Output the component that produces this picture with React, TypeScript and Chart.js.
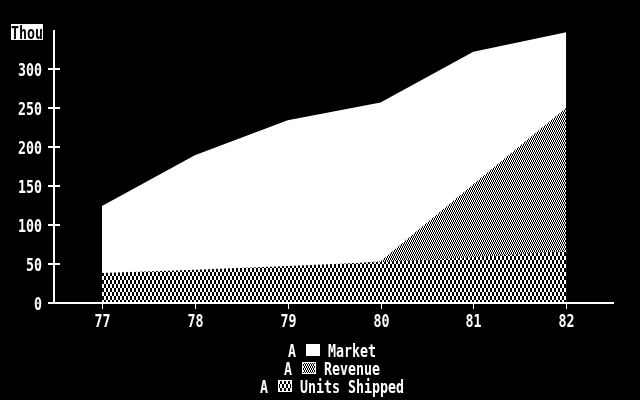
import React, { useEffect, useRef } from 'react';
import { Chart, registerables } from 'chart.js';

Chart.register(...registerables);

// ---- data ----
const years = [77, 78, 79, 80, 81, 82];
const marketValues = [124, 189, 234, 257, 322, 347];
const revenueValues = [34, 39, 44, 53, 152, 250];
const unitsValues = [38, 42, 47, 52, 58, 66];
const yTickValues = [0, 50, 100, 150, 200, 250, 300];
const xTickValues = [77, 78, 79, 80, 81, 82];
const yAxisUnit = 'Thou';
const legendLabels = ['Market', 'Revenue', 'Units Shipped'];

const FONT = 'bold 13.3px "DejaVu Sans Mono"';
const YSCALE = 1.35;

function makeChecker(cellW: number, cellH: number): CanvasPattern | string {
  const c = document.createElement('canvas');
  c.width = cellW * 2;
  c.height = cellH * 2;
  const g = c.getContext('2d');
  if (!g) return '#888';
  g.fillStyle = '#000';
  g.fillRect(0, 0, c.width, c.height);
  g.fillStyle = '#fff';
  g.fillRect(0, 0, cellW, cellH);
  g.fillRect(cellW, cellH, cellW, cellH);
  return g.createPattern(c, 'repeat') || '#888';
}

function drawText(
  ctx: CanvasRenderingContext2D,
  text: string,
  x: number,
  yCenter: number,
  align: CanvasTextAlign,
  color: string
) {
  ctx.save();
  ctx.font = FONT;
  ctx.fillStyle = color;
  ctx.textAlign = align;
  ctx.textBaseline = 'alphabetic';
  const cap = 0.729 * 13.3 * YSCALE;
  ctx.translate(x, yCenter + cap / 2);
  ctx.scale(1, YSCALE);
  ctx.fillText(text, 0, 0);
  ctx.restore();
}

export default function App() {
  const ref = useRef<HTMLCanvasElement | null>(null);

  useEffect(() => {
    const canvas = ref.current;
    if (!canvas) return;
    const unitsPattern = makeChecker(2, 4);
    const revenuePattern = makeChecker(1, 2);
    const legendFills = ['#fff', revenuePattern, unitsPattern];

    const decor = {
      id: 'decor',
      beforeDraw(chart: any) {
        const ctx = chart.ctx as CanvasRenderingContext2D;
        ctx.save();
        ctx.fillStyle = '#000';
        ctx.fillRect(0, 0, chart.width, chart.height);
        ctx.restore();
      },
      afterDraw(chart: any) {
        const ctx = chart.ctx as CanvasRenderingContext2D;
        const xs = chart.scales.x;
        const ys = chart.scales.y;
        const area = chart.chartArea;
        const y0 = Math.round(ys.getPixelForValue(0));
        ctx.save();
        ctx.fillStyle = '#fff';
        // axes
        ctx.fillRect(Math.round(area.left) - 1, Math.round(area.top), 2, y0 - Math.round(area.top) + 1);
        ctx.fillRect(Math.round(area.left) - 6, y0 - 1, Math.round(area.right) - Math.round(area.left) + 6, 2);
        // y ticks
        yTickValues.forEach((v) => {
          const py = Math.round(ys.getPixelForValue(v));
          ctx.fillRect(Math.round(area.left) - 6, py - 1, 12, 2);
          drawText(ctx, String(v), 42, py, 'right', '#fff');
        });
        // x ticks
        xTickValues.forEach((v) => {
          const px = Math.round(xs.getPixelForValue(v));
          ctx.fillRect(px, y0 + 1, 1, 5);
          drawText(ctx, String(v), px + 0.5, y0 + 17, 'center', '#fff');
        });
        // unit label
        ctx.fillStyle = '#fff';
        ctx.fillRect(11, 24, 32, 16);
        drawText(ctx, yAxisUnit, 11, 32, 'left', '#000');
        // legend
        const cx = (area.left + area.right) / 2 - 2;
        const lineY = [350, 368, 386];
        legendLabels.forEach((label, i) => {
          const cells = 5 + label.length;
          const left = cx - cells * 4;
          const yc = lineY[i];
          drawText(ctx, 'A', left, yc, 'left', '#fff');
          ctx.fillStyle = '#fff';
          ctx.fillRect(left + 18, yc - 6, 14, 12);
          ctx.fillStyle = '#000';
          ctx.fillRect(left + 19, yc - 5, 12, 10);
          ctx.fillStyle = legendFills[i] as any;
          ctx.fillRect(left + 19, yc - 5, 12, 10);
          drawText(ctx, label, left + 40, yc, 'left', '#fff');
        });
        ctx.restore();
      },
    };

    const toPts = (vals: number[]) => years.map((x, i) => ({ x, y: vals[i] }));

    const chart = new Chart(canvas, {
      type: 'line',
      data: {
        datasets: [
          {
            label: legendLabels[2],
            data: toPts(unitsValues),
            backgroundColor: unitsPattern as any,
            borderColor: 'rgba(0,0,0,0)',
            borderWidth: 0,
            pointRadius: 0,
            fill: 'origin',
            tension: 0,
          },
          {
            label: legendLabels[1],
            data: toPts(revenueValues),
            backgroundColor: revenuePattern as any,
            borderColor: 'rgba(0,0,0,0)',
            borderWidth: 0,
            pointRadius: 0,
            fill: 'origin',
            tension: 0,
          },
          {
            label: legendLabels[0],
            data: toPts(marketValues),
            backgroundColor: '#fff',
            borderColor: 'rgba(0,0,0,0)',
            borderWidth: 0,
            pointRadius: 0,
            fill: 'origin',
            tension: 0,
          },
        ],
      },
      options: {
        responsive: false,
        animation: false,
        devicePixelRatio: 1,
        layout: { padding: { left: 54, right: 26, top: 30, bottom: 97.5 } },
        scales: {
          x: { type: 'linear', display: false, min: 76.483, max: 82.515 },
          y: { type: 'linear', display: false, min: 0, max: 350 },
        },
        plugins: {
          legend: { display: false },
          tooltip: { enabled: false },
          title: { display: false },
        },
      },
      plugins: [decor],
    });
    return () => chart.destroy();
  }, []);

  return (
    <div style={{ position: 'fixed', left: 0, top: 0, width: 640, height: 400, background: '#000' }}>
      <canvas ref={ref} width={640} height={400} style={{ display: 'block' }} />
    </div>
  );
}
